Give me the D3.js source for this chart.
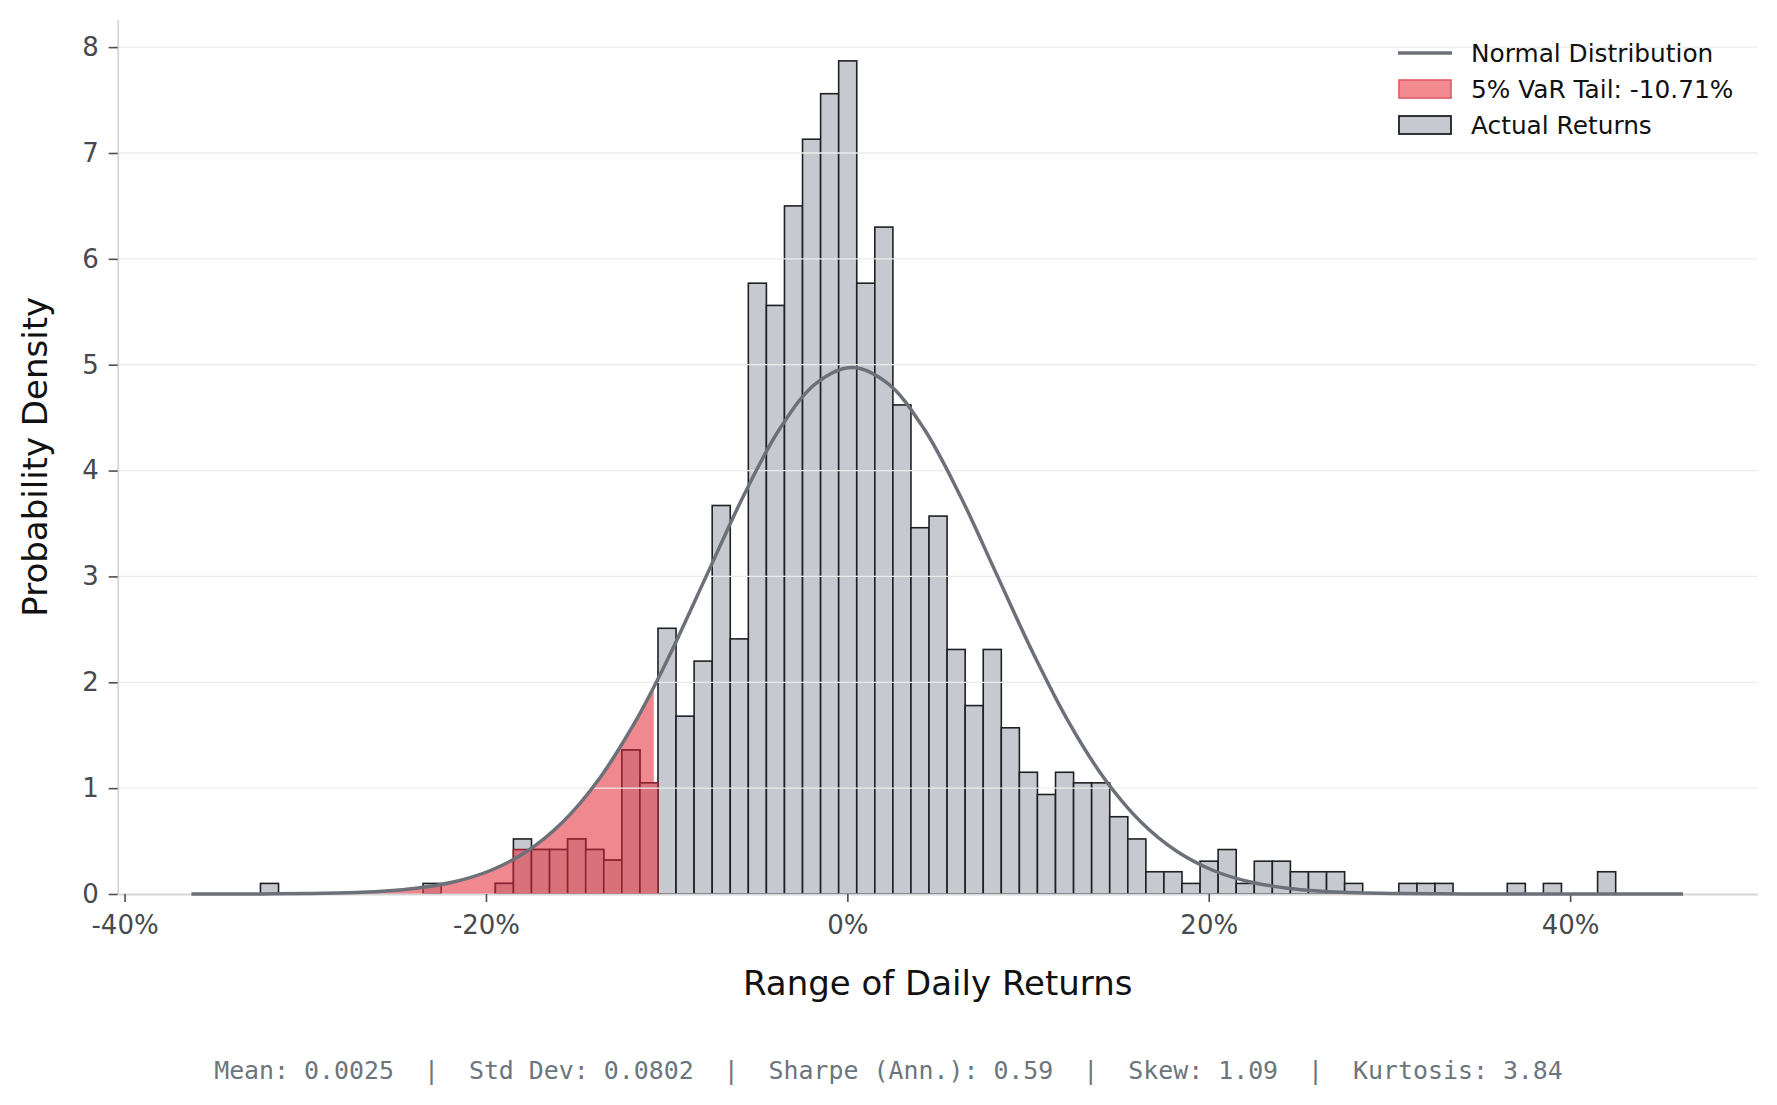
<!DOCTYPE html>
<html>
<head>
<meta charset="utf-8">
<script src="https://cdn.jsdelivr.net/npm/d3@7"></script>
<style>
  html, body { margin: 0; padding: 0; background: #fff; overflow: hidden; }
  svg { display: block; }
</style>
</head>
<body>
<div class="chart"></div>
<script>
'use strict';

// histogram: 75 equal bins of 1%, starting at the minimum return
const binStart = -0.3248;
const binWidth = 0.01;
const densities = [
  0.10, 0, 0, 0, 0, 0, 0, 0, 0, 0.10,
  0, 0, 0, 0.10, 0.52, 0.42, 0.42, 0.52, 0.42, 0.32,
  1.36, 1.05, 2.51, 1.68, 2.20, 3.67, 2.41, 5.77, 5.56, 6.50,
  7.13, 7.56, 7.87, 5.77, 6.30, 4.62, 3.46, 3.57, 2.31, 1.78,
  2.31, 1.57, 1.15, 0.94, 1.15, 1.05, 1.05, 0.73, 0.52, 0.21,
  0.21, 0.10, 0.31, 0.42, 0.10, 0.31, 0.31, 0.21, 0.21, 0.21,
  0.10, 0, 0, 0.10, 0.10, 0.10, 0, 0, 0, 0.10,
  0, 0.10, 0, 0, 0.21
];

// tail (returns below VaR) histogram, same bin edges
const tailFirstBin = 13;
const tailDensities = [0.10, 0.42, 0.42, 0.42, 0.52, 0.42, 0.32, 1.36, 1.05];
const varLevel = -0.1071;

// fitted normal curve
const curveX = [
  -0.363, -0.3375, -0.3175, -0.2975, -0.2775, -0.2575, -0.2375, -0.2175, -0.1975, -0.1775,
  -0.1575, -0.1375, -0.1175, -0.1071, -0.0975, -0.0775, -0.0575, -0.0375, -0.0175, 0.0025,
  0.0225, 0.0425, 0.0625, 0.0825, 0.1025, 0.1225, 0.1425, 0.1625, 0.1825, 0.2025,
  0.2225, 0.2425, 0.2625, 0.2825, 0.3025, 0.3225, 0.3425, 0.3625, 0.3825, 0.4025,
  0.4225, 0.4425, 0.4625
];
const curveY = [
  0.0001, 0.0006, 0.0017, 0.0046, 0.0112, 0.0260, 0.0565, 0.1155, 0.222, 0.401,
  0.680, 1.084, 1.624, 1.955, 2.286, 3.024, 3.760, 4.392, 4.822, 4.974,
  4.822, 4.392, 3.760, 3.024, 2.286, 1.624, 1.084, 0.680, 0.401, 0.222,
  0.1155, 0.0565, 0.0260, 0.0112, 0.0046, 0.0017, 0.0006, 0.0002, 0.0001, 0,
  0, 0, 0
];

const xTicks = [-0.4, -0.2, 0, 0.2, 0.4];
const yTicks = [0, 1, 2, 3, 4, 5, 6, 7, 8];

const statLabels = ["Mean", "Std Dev", "Sharpe (Ann.)", "Skew", "Kurtosis"];
const statValues = ["0.0025", "0.0802", "0.59", "1.09", "3.84"];

// canvas
const W = 1777, H = 1105;
const margin = {top: 19.6, left: 117.7, right: 19.3, bottom: 211};
const w = W - margin.left - margin.right;
const h = H - margin.top - margin.bottom;

const svg = d3.select(".chart")
  .append("svg")
  .attr("width", W)
  .attr("height", H);

const g = svg.append("g")
  .attr("transform", `translate(${margin.left}, ${margin.top})`);

const x = d3.scaleLinear().domain([-0.4038, 0.5038]).range([0, w]);
const y = d3.scaleLinear().domain([0, 8.26]).range([h, 0]);

const bins = densities.map((d, i) => ({x0: binStart + i * binWidth, x1: binStart + (i + 1) * binWidth, d}));
const tailBins = tailDensities.map((d, i) => bins[tailFirstBin + i]).map((b, i) => ({x0: b.x0, x1: b.x1, d: tailDensities[i]}));
const curve = curveX.map((v, i) => ({x: v, y: curveY[i]}));

// actual returns bars
g.append("g")
  .selectAll("rect")
  .data(bins.filter(b => b.d > 0))
  .enter()
  .append("rect")
  .attr("x", b => x(b.x0))
  .attr("y", b => y(b.d))
  .attr("width", b => x(b.x1) - x(b.x0))
  .attr("height", b => y(0) - y(b.d))
  .style("fill", "#c6cad0")
  .style("stroke", "#1f2023")
  .style("stroke-width", 1.6);

// VaR tail under the normal curve
const area = d3.area()
  .x(d => x(d.x))
  .y0(y(0))
  .y1(d => y(d.y))
  .curve(d3.curveCatmullRom);
g.append("path")
  .datum(curve.filter(d => d.x <= varLevel))
  .attr("d", area)
  .style("fill", "#e63946")
  .style("fill-opacity", 0.6);

// tail bars
g.append("g")
  .selectAll("rect")
  .data(tailBins)
  .enter()
  .append("rect")
  .attr("x", b => x(b.x0))
  .attr("y", b => y(b.d))
  .attr("width", b => x(b.x1) - x(b.x0))
  .attr("height", b => y(0) - y(b.d))
  .style("fill", "#d9717b")
  .style("stroke", "#8d2230")
  .style("stroke-width", 1.6);

// grid
g.append("g")
  .selectAll("line")
  .data(yTicks.slice(1))
  .enter()
  .append("line")
  .attr("x1", 0)
  .attr("x2", w)
  .attr("y1", d => y(d))
  .attr("y2", d => y(d))
  .style("stroke", "#ebebeb")
  .style("stroke-width", 1.3);

// axes
const xAxis = d3.axisBottom(x)
  .tickValues(xTicks)
  .tickFormat(d => `${Math.round(d * 100)}%`)
  .tickSize(8)
  .tickSizeOuter(0)
  .tickPadding(14);
const yAxis = d3.axisLeft(y)
  .tickValues(yTicks)
  .tickFormat(d3.format("d"))
  .tickSize(9)
  .tickSizeOuter(0)
  .tickPadding(10);

const gx = g.append("g")
  .attr("transform", `translate(0, ${h})`)
  .call(xAxis);
const gy = g.append("g").call(yAxis);

[gx, gy].forEach(a => {
  a.select(".domain").style("stroke", "#d6d6d8").style("stroke-width", 1.8);
  a.selectAll(".tick line").style("stroke", "#4a4d52").style("stroke-width", 1.6);
  a.selectAll(".tick text")
    .style("font-family", "DejaVu Sans")
    .style("font-size", "26px")
    .style("fill", "#464a4f");
});

// normal curve
const line = d3.line()
  .x(d => x(d.x))
  .y(d => y(d.y))
  .curve(d3.curveCatmullRom);
g.append("path")
  .datum(curve)
  .attr("d", line)
  .style("fill", "none")
  .style("stroke", "#6c7078")
  .style("stroke-width", 3.5);

// axis labels
g.append("text")
  .attr("x", w / 2)
  .attr("y", 975)
  .attr("text-anchor", "middle")
  .style("font-family", "DejaVu Sans")
  .style("font-size", "34px")
  .style("fill", "#111")
  .text("Range of Daily Returns");
g.append("text")
  .attr("transform", `translate(${35 - margin.left + 12}, ${h / 2}) rotate(-90)`)
  .attr("text-anchor", "middle")
  .style("font-family", "DejaVu Sans")
  .style("font-size", "34px")
  .style("fill", "#111")
  .text("Probability Density");

// legend
const legendItems = [
  {label: "Normal Distribution", type: "line"},
  {label: `5% VaR Tail: ${(varLevel * 100).toFixed(2)}%`, type: "tail"},
  {label: "Actual Returns", type: "bars"}
];
const legend = svg.append("g")
  .attr("transform", "translate(1398, 53)")
  .selectAll("g")
  .data(legendItems)
  .enter()
  .append("g")
  .attr("transform", (d, i) => `translate(0, ${i * 36})`);
legend.filter(d => d.type === "line")
  .append("line")
  .attr("x1", 0).attr("x2", 54)
  .style("stroke", "#6c7078")
  .style("stroke-width", 3.5);
legend.filter(d => d.type === "tail")
  .append("rect")
  .attr("x", 1).attr("y", -9).attr("width", 52).attr("height", 18)
  .style("fill", "#f28a90")
  .style("stroke", "#dd5a66")
  .style("stroke-width", 1.6);
legend.filter(d => d.type === "bars")
  .append("rect")
  .attr("x", 1).attr("y", -9).attr("width", 52).attr("height", 18)
  .style("fill", "#c6cad0")
  .style("stroke", "#1f2023")
  .style("stroke-width", 1.8);
legend.append("text")
  .attr("x", 73)
  .attr("dy", "0.36em")
  .style("font-family", "DejaVu Sans")
  .style("font-size", "24.8px")
  .style("fill", "#111")
  .text(d => d.label);

// stats footer
svg.append("text")
  .attr("x", W / 2)
  .attr("y", 1079)
  .attr("text-anchor", "middle")
  .style("font-family", "DejaVu Sans Mono")
  .style("font-size", "24.9px")
  .style("fill", "#6c757d")
  .style("white-space", "pre")
  .text(statLabels.map((l, i) => `${l}: ${statValues[i]}`).join("  |  "));
</script>
</body>
</html>
